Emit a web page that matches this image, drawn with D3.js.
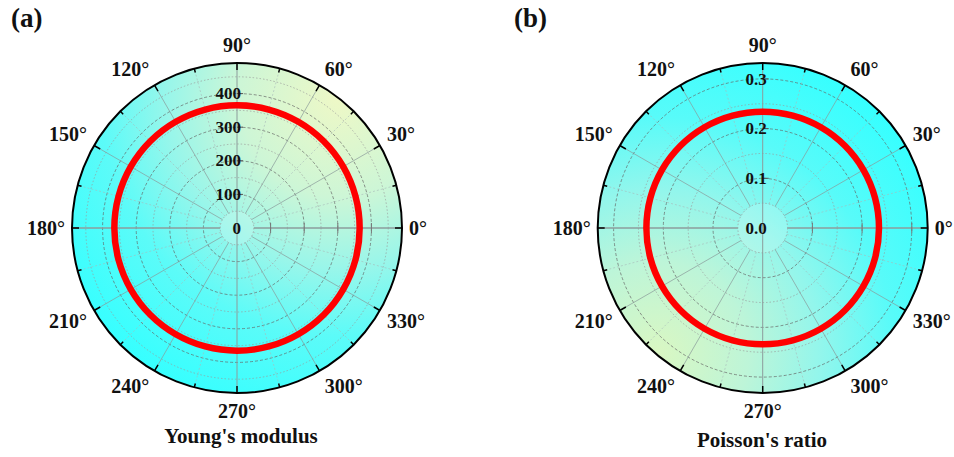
<!DOCTYPE html>
<html>
<head>
<meta charset="utf-8">
<script src="https://cdn.jsdelivr.net/npm/d3@7"></script>
<style>
  html, body { margin: 0; padding: 0; background: #ffffff; }
  svg { display: block; }
  text { font-family: "Liberation Serif", "Times New Roman", serif; font-weight: bold; fill: #111; }
</style>
</head>
<body>
<svg id="chart" width="954" height="457"></svg>
<script>
// ---- data ----
const angleLabels = [0, 30, 60, 90, 120, 150, 180, 210, 240, 270, 300, 330];
const sampleAngles = [0, 15, 30, 45, 60, 75, 90, 105, 120, 135, 150, 165, 180, 195, 210, 225, 240, 255, 270, 285, 300, 315, 330, 345];
const youngValues = [365, 365, 365, 365, 365, 365, 365, 365, 365, 365, 365, 365, 365, 365, 365, 365, 365, 365, 365, 365, 365, 365, 365, 365];
const poissonValues = [0.234, 0.234, 0.234, 0.234, 0.234, 0.234, 0.234, 0.234, 0.234, 0.234, 0.234, 0.234, 0.234, 0.234, 0.234, 0.234, 0.234, 0.234, 0.234, 0.234, 0.234, 0.234, 0.234, 0.234];
const youngTicks = [0, 100, 200, 300, 400];
const youngTickLabels = ["0", "100", "200", "300", "400"];
const youngGrid = [50, 100, 150, 200, 250, 300, 350, 400, 450];
const poissonTicks = [0, 0.1, 0.2, 0.3];
const poissonTickLabels = ["0.0", "0.1", "0.2", "0.3"];
const poissonGrid = [0.05, 0.1, 0.15, 0.2, 0.25, 0.3];
const youngMax = 491;
const poissonMax = 0.332;

const svg = d3.select("#chart");
const defs = svg.append("defs");
const R = 165;

function panel(opts) {
  const { cx, cy, max, values, ticks, tickLabels, grid, majorStep, tag, tagX, title, titleX, titleY, gradId, focusDeg, stops } = opts;
  const r = d3.scaleLinear().domain([0, max]).range([0, R]);
  const toRad = d => d * Math.PI / 180;
  const px = (deg, rr) => cx + rr * Math.cos(toRad(deg));
  const py = (deg, rr) => cy - rr * Math.sin(toRad(deg));

  // gradient
  const g = defs.append("radialGradient").attr("id", gradId)
    .attr("gradientUnits", "userSpaceOnUse")
    .attr("cx", px(focusDeg, R)).attr("cy", py(focusDeg, R))
    .attr("fx", px(focusDeg, R)).attr("fy", py(focusDeg, R))
    .attr("r", 2 * R);
  stops.forEach(s => g.append("stop").attr("offset", s[0]).attr("stop-color", s[1]));

  const root = svg.append("g");
  root.append("circle").attr("cx", cx).attr("cy", cy).attr("r", R).attr("fill", `url(#${gradId})`);

  // light spot behind center label
  root.append("circle").attr("cx", cx).attr("cy", cy).attr("r", r(grid[0]))
    .attr("fill", "#ffffff").attr("opacity", 0.15);

  // circular grid
  root.selectAll(".gc").data(grid).enter().append("circle")
    .attr("cx", cx).attr("cy", cy).attr("r", d => r(d))
    .attr("fill", "none")
    .attr("stroke", d => Math.abs(d / majorStep - Math.round(d / majorStep)) < 1e-6 ? "#666" : "#999")
    .attr("stroke-width", 0.7)
    .attr("stroke-dasharray", d => Math.abs(d / majorStep - Math.round(d / majorStep)) < 1e-6 ? "3,2" : "1.5,2");

  // radial grid lines
  const spokes = d3.range(0, 360, 15);
  root.selectAll(".sp").data(spokes.filter(a => a % 90 !== 0)).enter().append("line")
    .attr("x1", a => px(a, r(grid[0]))).attr("y1", a => py(a, r(grid[0])))
    .attr("x2", a => px(a, R)).attr("y2", a => py(a, R))
    .attr("stroke", a => a % 30 === 0 ? "#8a9a9a" : "#a8b8b8")
    .attr("stroke-width", a => a % 30 === 0 ? 0.7 : 0.6)
    .attr("stroke-dasharray", a => a % 30 === 0 ? null : "2,2");

  // axis lines
  [0, 180].forEach(a => root.append("line")
    .attr("x1", px(a, r(grid[0]))).attr("y1", py(a, r(grid[0])))
    .attr("x2", px(a, R)).attr("y2", py(a, R))
    .attr("stroke", "#8c9c9c").attr("stroke-width", 1.6));
  [90, 270].forEach(a => root.append("line")
    .attr("x1", px(a, 0)).attr("y1", py(a, 0))
    .attr("x2", px(a, R)).attr("y2", py(a, R))
    .attr("stroke", "#8c9c9c").attr("stroke-width", 1));

  // radial axis ticks
  root.selectAll(".rt").data(ticks.filter(t => t > 0)).enter().append("line")
    .attr("x1", cx).attr("x2", cx + 6)
    .attr("y1", d => cy - r(d)).attr("y2", d => cy - r(d))
    .attr("stroke", "#555").attr("stroke-width", 1);
  root.selectAll(".rt0").data(ticks.filter(t => t > 0)).enter().append("line")
    .attr("x1", d => cx + r(d)).attr("x2", d => cx + r(d))
    .attr("y1", cy - 5).attr("y2", cy + 5)
    .attr("stroke", "#777").attr("stroke-width", 1);

  // data curve
  const line = d3.lineRadial()
    .angle((d, i) => Math.PI / 2 - toRad(sampleAngles[i]))
    .radius(d => r(d))
    .curve(d3.curveCatmullRomClosed);
  root.append("path")
    .attr("transform", `translate(${cx},${cy})`)
    .attr("d", line(values))
    .attr("fill", "none").attr("stroke", "#ff0000").attr("stroke-width", 6.5);

  // outer circle + ticks
  root.append("circle").attr("cx", cx).attr("cy", cy).attr("r", R)
    .attr("fill", "none").attr("stroke", "#000").attr("stroke-width", 2);
  root.selectAll(".ot").data(spokes).enter().append("line")
    .attr("x1", a => px(a, R)).attr("y1", a => py(a, R))
    .attr("x2", a => px(a, R - (a % 30 === 0 ? 7 : 4))).attr("y2", a => py(a, R - (a % 30 === 0 ? 7 : 4)))
    .attr("stroke", "#000").attr("stroke-width", 1.5);

  // radial labels
  root.selectAll(".rl").data(ticks).enter().append("text")
    .attr("x", cx + 4).attr("y", d => cy - r(d))
    .attr("dy", "0.33em")
    .attr("text-anchor", "end")
    .style("font-size", "17px")
    .text((d, i) => tickLabels[i]);

  // angle labels
  root.selectAll(".al").data(angleLabels).enter().append("text")
    .each(function (a) {
      const s = Math.sin(toRad(a)), c = Math.cos(toRad(a));
      const rl = 172 + 4.5 * s * s;
      const x = px(a, rl), y = py(a, rl);
      const anchor = c > 0.1 ? "start" : (c < -0.1 ? "end" : "middle");
      const yy = s > 0.1 ? y : (s < -0.1 ? y + 13.3 : y + 6.6);
      d3.select(this).attr("x", x).attr("y", yy).attr("text-anchor", anchor);
    })
    .style("font-size", "20px")
    .text(a => a + "°");

  // tag and title
  svg.append("text").attr("x", tagX).attr("y", 27).style("font-size", "27px").text(tag);
  svg.append("text").attr("x", titleX).attr("y", titleY).attr("text-anchor", "middle")
    .style("font-size", "21px").text(title);
}

panel({
  cx: 237, cy: 228, max: youngMax, values: youngValues, ticks: youngTicks, tickLabels: youngTickLabels,
  grid: youngGrid, majorStep: 100, tag: "(a)", tagX: 11, title: "Young's modulus", titleX: 241, titleY: 443,
  gradId: "gradA", focusDeg: 52,
  stops: [[0, "#eef8c6"], [0.3, "#cdf6d6"], [0.52, "#98f6ea"], [0.72, "#5cfbf8"], [1, "#36ffff"]]
});
panel({
  cx: 762.7, cy: 228, max: poissonMax, values: poissonValues, ticks: poissonTicks, tickLabels: poissonTickLabels,
  grid: poissonGrid, majorStep: 0.1, tag: "(b)", tagX: 514, title: "Poisson's ratio", titleX: 762, titleY: 447,
  gradId: "gradB", focusDeg: 230,
  stops: [[0, "#daf7c2"], [0.28, "#bdf5d8"], [0.5, "#92f6ec"], [0.72, "#58fbf9"], [1, "#36ffff"]]
});
</script>
</body>
</html>
